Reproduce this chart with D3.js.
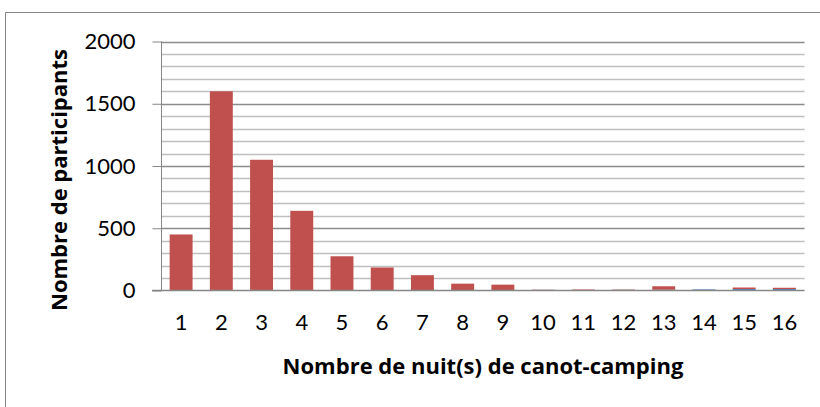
<!DOCTYPE html>
<html><head><meta charset="utf-8">
<script src="https://cdn.jsdelivr.net/npm/d3@7"></script>
<style>html,body{margin:0;padding:0;background:#fff;} svg{display:block;}</style>
</head><body>
<svg id="c" width="820" height="407"></svg>
<script>
const categories = ["1","2","3","4","5","6","7","8","9","10","11","12","13","14","15","16"];
const blueValues = [0,0,0,0,0,0,0,0,0,5,0,5,6,9,12,12];
const redValues = [450,1600,1050,640,275,185,123,55,47,2,8,3,28,0,12,10];
const yTicks = [0,500,1000,1500,2000];
const yMinor = d3.range(0,2001,100);
const yTitle = "Nombre de participants";
const xTitle = "Nombre de nuit(s) de canot-camping";

const svg = d3.select("#c");
const font = "Lato, 'Open Sans', sans-serif";
const tfont = "'Open Sans', Lato, sans-serif";
const m = {left:161, right:804.5, top:41.5, bottom:290.5};

// outer border (left and top only visible)
svg.append("path").attr("d","M5.5,407 V12.5 H820").attr("fill","none").attr("stroke","#868686").attr("stroke-width",1);

const x = d3.scaleBand().domain(categories).range([m.left,m.right]).paddingInner(0.43).paddingOuter(0.215);
const y = d3.scaleLinear().domain([0,2000]).range([m.bottom,m.top]);

// gridlines
svg.append("g").selectAll("line").data(yMinor.filter(v=>v>0)).join("line")
  .attr("x1",m.left).attr("x2",m.right)
  .attr("y1",d=>Math.round(y(d))+0.5).attr("y2",d=>Math.round(y(d))+0.5)
  .attr("stroke",d=>d%500===0?"#8c8c8c":"#bfbfbf").attr("stroke-width",1.3);

// bars stacked
const stackData = categories.map((c,i)=>({cat:c, blue:blueValues[i], red:redValues[i]}));
const series = d3.stack().keys(["blue","red"])(stackData);
const colors = {blue:"#4F81BD", red:"#C0504D"};
svg.append("g").selectAll("g").data(series).join("g").attr("fill",d=>colors[d.key])
  .selectAll("rect").data(d=>d).join("rect")
  .attr("x",d=>x(d.data.cat)).attr("width",x.bandwidth())
  .attr("y",d=>y(d[1])).attr("height",d=>Math.max(0,y(d[0])-y(d[1])));

// y axis
const yAxis = d3.axisLeft(y).tickValues(yTicks).tickSize(9).tickPadding(17).tickFormat(d3.format("d"));
const gy = svg.append("g").attr("transform",`translate(${m.left+0.5},0)`).call(yAxis);
gy.select(".domain").attr("stroke","#868686").attr("d",`M0,${m.top}V${m.bottom+0.5}`);
gy.selectAll(".tick line").attr("stroke","#868686");
gy.selectAll(".tick text").attr("font-family",font).attr("font-size",22).attr("fill","#000");

// x axis
const xAxis = d3.axisBottom(x).tickSize(0).tickPadding(24);
const gx = svg.append("g").attr("transform",`translate(0,${m.bottom})`).call(xAxis);
gx.select(".domain").attr("stroke","#868686").attr("stroke-width",1.5).attr("d",`M${m.left-9},0H${m.right}`);
gx.selectAll(".tick text").attr("font-family",font).attr("font-size",22).attr("fill","#000");

// titles
svg.append("text").attr("x",483).attr("y",374).attr("text-anchor","middle")
  .attr("font-family",tfont).attr("font-weight","bold").attr("font-size",22).text(xTitle);
svg.append("text").attr("transform","translate(67,180) rotate(-90)").attr("text-anchor","middle")
  .attr("font-family",tfont).attr("font-weight","bold").attr("font-size",22).text(yTitle);
</script>
</body></html>
